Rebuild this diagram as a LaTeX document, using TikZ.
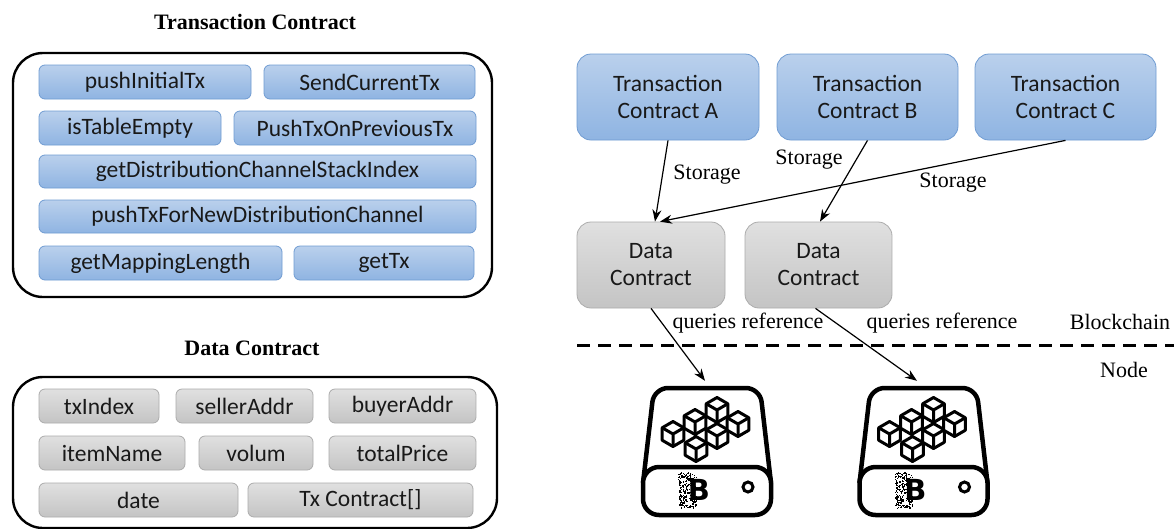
\documentclass[tikz,border=0pt]{standalone}
\usepackage{fontspec}
\setmainfont{Liberation Serif}
\newfontfamily\boxfont{Carlito}
\newfontfamily\iconfont{DejaVu Sans}
\usetikzlibrary{arrows.meta,calc}

\definecolor{bluetop}{RGB}{186,208,236}
\definecolor{bluebot}{RGB}{143,180,226}
\definecolor{blueline}{RGB}{112,156,210}
\definecolor{graytop}{RGB}{224,224,224}
\definecolor{graybot}{RGB}{196,196,196}
\definecolor{grayline}{RGB}{172,172,172}
\definecolor{txt}{RGB}{25,25,25}

\tikzset{
  cube/.pic={
    \draw[fill=white, line width=3pt, line join=round] (0,-12.5) -- (10.8,-6.25) -- (10.8,6.25) -- (0,12.5) -- (-10.8,6.25) -- (-10.8,-6.25) -- cycle;
    \draw[line width=3pt, line join=round] (-10.8,-6.25) -- (0,0) -- (10.8,-6.25) (0,0) -- (0,12.5);
  },
  drive/.pic={
    \draw[line width=4.5pt, rounded corners=14pt, fill=white] (-64,32) -- (-53,-63) -- (53,-63) -- (64,32);
    \draw[line width=4.5pt, rounded corners=16pt, fill=white] (-64,16) rectangle (64,64);
    \pic at (-34,-17) {cube};
    \pic at (-12,-29) {cube};
    \pic at (10,-41) {cube};
    \pic at (-11,-2) {cube};
    \pic at (10,-15) {cube};
    \pic at (31,-27) {cube};
    \pgfmathsetseed{7}
    \foreach \i in {1,...,220}{
      \pgfmathsetmacro\rx{-29+18*rnd}
      \pgfmathsetmacro\ry{21+36*rnd}
      \fill (\rx,\ry) rectangle +(1.2,1.2);
    }
    \node[font=\iconfont\bfseries\fontsize{29}{29}\selectfont, inner sep=0pt] (-b) at (-8,39) {B};
    \draw[line width=3pt] (41,36) circle[radius=5pt];
  },
}

\begin{document}
\begin{tikzpicture}[x=1pt,y=-1pt,
  fbox/.style={rounded corners=6pt, inner sep=0pt, minimum height=34pt,
    font=\boxfont\fontsize{23.5}{27}\selectfont, text=txt, line width=0.8pt},
  bluebox/.style={fbox, draw=blueline, top color=bluetop, bottom color=bluebot},
  graybox/.style={fbox, draw=grayline, top color=graytop, bottom color=graybot},
  bigblue/.style={bluebox, rounded corners=14pt, minimum height=86pt, align=center},
  biggray/.style={graybox, rounded corners=14pt, minimum height=86pt, align=center},
  frame/.style={draw, line width=2.4pt, rounded corners=30pt, inner sep=0pt},
  titletext/.style={font=\fontsize{22}{24}\selectfont\bfseries, inner sep=1pt},
  lbl/.style={font=\fontsize{22}{24}\selectfont, inner sep=1pt},
  arr/.style={-{Stealth[length=12pt,width=9pt]}, line width=1.2pt},
  iconbox/.style={inner sep=0pt, minimum width=130pt, minimum height=128pt},
]
\useasboundingbox (0,0) rectangle (1174,528);
\fill[white] (0,0) rectangle (1174,528);

% ---------- Transaction Contract (left) ----------
\node[titletext] (t1) at (255,22) {Transaction Contract};
\node[frame, minimum width=479pt, minimum height=244pt] (fr1) at (252.5,175) {};
\node[bluebox, minimum width=212pt] (f1) at (145,82) {pushInitialTx};
\node[bluebox, minimum width=211pt] (f2) at (369.5,82) {SendCurrentTx};
\node[bluebox, minimum width=182pt] (f3) at (130,128) {isTableEmpty};
\node[bluebox, minimum width=242pt] (f4) at (355,128) {PushTxOnPreviousTx};
\node[bluebox, minimum width=437pt, minimum height=33pt] (f5) at (257.5,171.5) {getDistributionChannelStackIndex};
\node[bluebox, minimum width=437pt, minimum height=33pt] (f6) at (257.5,216.5) {pushTxForNewDistributionChannel};
\node[bluebox, minimum width=243pt] (f7) at (160.5,263) {getMappingLength};
\node[bluebox, minimum width=180pt] (f8) at (384,263) {getTx};

% ---------- Data Contract (left) ----------
\node[titletext] (t2) at (252,348) {Data Contract};
\node[frame, minimum width=484pt, minimum height=151pt] (fr2) at (255,452.5) {};
\node[graybox, minimum width=120pt] (d1) at (99,406) {txIndex};
\node[graybox, minimum width=137pt] (d2) at (244.5,406) {sellerAddr};
\node[graybox, minimum width=147pt] (d3) at (402.5,406) {buyerAddr};
\node[graybox, minimum width=146pt] (d4) at (112,453) {itemName};
\node[graybox, minimum width=114pt] (d5) at (256,453) {volum};
\node[graybox, minimum width=147pt] (d6) at (402.5,453) {totalPrice};
\node[graybox, minimum width=199pt] (d7) at (138.5,500) {date};
\node[graybox, minimum width=225pt] (d8) at (360.5,500) {Tx Contract[]};

% ---------- Right side ----------
\node[bigblue, minimum width=182pt] (tca) at (668,97) {Transaction\\Contract A};
\node[bigblue, minimum width=181pt] (tcb) at (867.5,97) {Transaction\\Contract B};
\node[bigblue, minimum width=181pt] (tcc) at (1065.5,97) {Transaction\\Contract C};
\node[biggray, minimum width=148pt] (dc1) at (651,265) {Data\\Contract};
\node[biggray, minimum width=147pt] (dc2) at (818.5,265) {Data\\Contract};

\draw[arr] (tca.south) -- ([xshift=4pt]dc1.north);
\draw[arr] (tcb.south) -- ([xshift=1.5pt]dc2.north);
\draw[arr] (tcc.south) -- ([xshift=9pt]dc1.north);

\node[lbl] (s1) at (707,175) {Storage};
\node[lbl] (s2) at (809,160) {Storage};
\node[lbl] (s3) at (953,183) {Storage};

% separator
\coordinate (sepL) at (577,345);
\coordinate (sepR) at (1174,345);
\draw[line width=3pt, dash pattern=on 13pt off 8pt] (sepL) -- (sepR);
\node[lbl] (bc) at (1120,322) {Blockchain};
\node[lbl] (nd) at (1124,370) {Node};

% node icons
\node[iconbox] (n1) at (707,451) {};
\node[iconbox] (n2) at (923.5,451) {};
\pic (i1) at (n1.center) {drive};
\pic (i2) at (n2.center) {drive};

\draw[arr] (dc1.south) -- ([xshift=-2pt,yshift=6pt]n1.north);
\draw[arr] ([xshift=-3pt]dc2.south) -- ([xshift=-6.5pt,yshift=6pt]n2.north);
\node[lbl] (q1) at (748,323) {queries reference};
\node[lbl] (q2) at (942,323) {queries reference};
\end{tikzpicture}
\end{document}
